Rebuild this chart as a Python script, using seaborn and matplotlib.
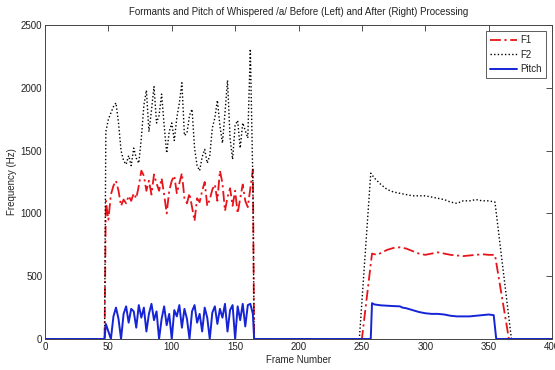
import matplotlib
matplotlib.use("Agg")
import matplotlib.pyplot as plt
import seaborn as sns
import pandas as pd

# Frame numbers and formant / pitch tracks (Hz), before (frames 47-165) and after (248-368) processing
f1_frames = [0, 47] + list(range(48, 166, 2)) + [165, 250, 258, 262, 266, 270, 275, 280, 285, 290, 295, 300,
                                                   305, 310, 315, 320, 325, 330, 335, 340, 345, 350, 355, 366, 400]
f1_values = [0, 0,
             1100, 950, 1150, 1220, 1260, 1180, 1060, 1110, 1080, 1140, 1100, 1160, 1120, 1220, 1340,
             1300, 1180, 1260, 1150, 1310, 1240, 1180, 1280, 1150, 1000, 1180, 1260, 1300, 1160, 1240,
             1320, 1120, 1080, 1160, 1050, 940, 1120, 1090, 1180, 1250, 1060, 1110, 1190, 1230, 1100,
             1340, 1240, 1020, 1130, 1200, 1060, 1180, 1000, 1120, 1230, 1100, 1050, 1200, 1350,
             0, 0, 680, 670, 690, 710, 725, 730, 720, 700, 680, 670, 680, 690, 680, 670, 665, 660,
             665, 670, 675, 670, 670, 0, 0]

f2_frames = [0, 47] + list(range(48, 166, 2)) + [165, 248, 257, 260, 265, 270, 275, 280, 285, 290, 295, 300,
                                                   305, 310, 315, 320, 325, 330, 335, 340, 345, 350, 355, 368, 400]
f2_values = [0, 0,
             1650, 1750, 1800, 1850, 1880, 1720, 1500, 1420, 1390, 1460, 1380, 1520, 1440, 1400, 1600,
             1860, 1980, 1650, 1820, 2010, 1720, 1780, 1950, 1700, 1480, 1650, 1720, 1580, 1760, 1880,
             2040, 1620, 1640, 1780, 1830, 1520, 1380, 1340, 1450, 1510, 1400, 1460, 1680, 1760, 1900,
             1700, 1560, 1800, 2060, 1600, 1430, 1700, 1740, 1520, 1720, 1660, 1600, 2310, 1250,
             0, 0, 1320, 1280, 1230, 1190, 1170, 1160, 1150, 1140, 1140, 1140, 1130, 1120, 1110, 1090,
             1080, 1100, 1100, 1110, 1100, 1100, 1090, 0, 0]

pitch_frames = [0, 47] + list(range(48, 166, 2)) + [165, 257, 258, 260, 265, 270, 275, 280, 282, 285, 290, 295,
                                                      300, 305, 310, 315, 320, 325, 330, 335, 340, 345, 350, 354,
                                                      356, 400]
pitch_values = [0, 0,
                120, 60, 0, 180, 250, 160, 0, 200, 260, 130, 240, 220, 90, 270, 170, 250, 60, 200, 280,
                150, 220, 0, 160, 260, 110, 200, 0, 230, 180, 270, 90, 240, 160, 0, 220, 270, 130, 200,
                60, 250, 170, 0, 210, 260, 120, 240, 170, 280, 60, 230, 270, 0, 260, 150, 280, 100, 270,
                280, 200,
                0, 0, 285, 275, 268, 265, 262, 260, 250, 245, 230, 215, 205, 200, 200, 195, 185, 180, 180,
                180, 185, 190, 195, 190, 0, 0]

tracks = {
    "F1": pd.DataFrame({"frame": f1_frames, "hz": f1_values}),
    "F2": pd.DataFrame({"frame": f2_frames, "hz": f2_values}),
    "Pitch": pd.DataFrame({"frame": pitch_frames, "hz": pitch_values}),
}
styles = {
    "F1": dict(color="#e8141b", linestyle=(0, (6, 2, 1.2, 2)), linewidth=1.3),
    "F2": dict(color="black", linestyle=(0, (1, 1.6)), linewidth=1.0),
    "Pitch": dict(color="#1524d6", linestyle="-", linewidth=1.4),
}

sns.set_style("white")
plt.rcParams["font.family"] = ["Liberation Sans", "DejaVu Sans"]
plt.rcParams["text.color"] = "#222222"

fig = plt.figure(figsize=(5.55, 3.70), dpi=100)
ax = fig.add_axes([45 / 555, 1 - 339 / 370, 507 / 555, 314 / 370])

for name, df in tracks.items():
    sns.lineplot(data=df, x="frame", y="hz", ax=ax, label=name, estimator=None,
                 sort=False, **styles[name])

ax.set_xlim(0, 400)
ax.set_ylim(0, 2500)
ax.set_xticks(range(0, 401, 50))
ax.set_yticks(range(0, 2501, 500))
ax.tick_params(direction="in", length=4, width=0.6, labelsize=7, colors="#333333",
               labelcolor="#222222", top=True, right=True, pad=2)
for s in ax.spines.values():
    s.set_visible(True)
    s.set_color("#444444")
    s.set_linewidth(0.7)

ax.set_title("Formants and Pitch of Whispered /a/ Before (Left) and After (Right) Processing",
             fontsize=7, pad=7)
ax.set_xlabel("Frame Number", fontsize=7, labelpad=2)
ax.set_ylabel("Frequency (Hz)", fontsize=7, labelpad=3)

leg = ax.legend(loc="upper right", fontsize=7, frameon=True, fancybox=False,
                handlelength=2.8, handletextpad=0.3, borderpad=0.45, labelspacing=0.45,
                borderaxespad=0.6)
leg.get_frame().set_edgecolor("#333333")
leg.get_frame().set_linewidth(0.7)

fig.savefig("out.png", dpi=100)
